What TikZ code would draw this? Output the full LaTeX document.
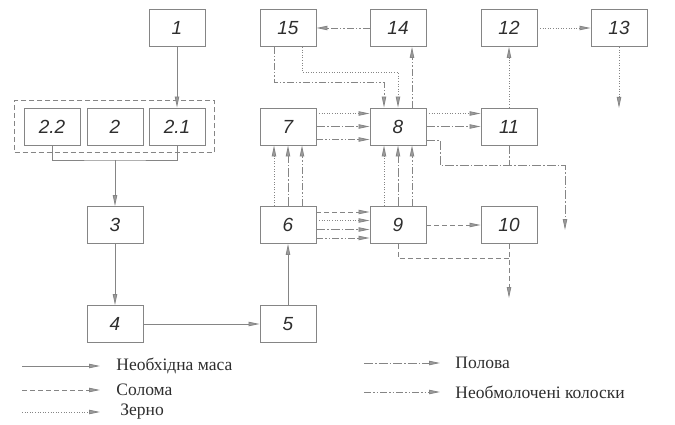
\documentclass[tikz,border=0pt]{standalone}
\usepackage{fontspec}
\setmainfont{Liberation Serif}
\setsansfont{Liberation Sans}
\usepackage{xcolor}
\usepackage{tikz}
\usetikzlibrary{arrows.meta,fit}
\definecolor{lineGray}{HTML}{858585}
\definecolor{tipGray}{HTML}{9C9C9C}
\definecolor{textGray}{HTML}{2E2E2E}

\begin{document}
\begin{tikzpicture}[x=1pt, y=-1pt, >={Triangle[length=11pt, width=4.4pt, fill=tipGray]},
		blk/.style={draw=lineGray, line width=0.9pt, minimum width=56pt, minimum height=37pt, inner sep=0pt, font=\sffamily\itshape\fontsize{19}{19}\selectfont, text=textGray},
		mass/.style={draw=lineGray, line width=0.8pt},
		straw/.style={mass, dash pattern=on 5pt off 3pt},
		grain/.style={mass, dash pattern=on 1pt off 1.6pt},
		chaff/.style={mass, dash pattern=on 9pt off 2pt on 1.5pt off 2pt},
		ears/.style={mass, dash pattern=on 7pt off 2pt on 1.5pt off 2pt on 1.5pt off 2pt},
		legtext/.style={anchor=west, font=\fontsize{17.5}{18}\selectfont, text=textGray, inner sep=0pt}]
		\useasboundingbox (0,0) rectangle (675,425);
		\node[blk] (n1) at (177,28) {1};
		\node[blk] (n22) at (52,126.5) {2.2};
		\node[blk] (n2) at (115,126.5) {2};
		\node[blk] (n21) at (177,126.5) {2.1};
		\node[draw=lineGray, line width=0.8pt, dash pattern=on 5pt off 3pt, fit=(n22)(n21), inner xsep=9pt, inner ysep=7pt] (grp) {};
		\node[blk] (n3) at (115,225) {3};
		\node[blk] (n4) at (115,324) {4};
		\node[blk] (n5) at (288,324) {5};
		\node[blk] (n6) at (288,225) {6};
		\node[blk] (n7) at (288,126.5) {7};
		\node[blk] (n15) at (288,28) {15};
		\node[blk] (n14) at (398,28) {14};
		\node[blk] (n8) at (398,126.5) {8};
		\node[blk] (n9) at (398,225) {9};
		\node[blk] (n10) at (509,225) {10};
		\node[blk] (n11) at (509,126.5) {11};
		\node[blk] (n12) at (509,28) {12};
		\node[blk] (n13) at (619,28) {13};
		\coordinate (jA) at (115,160);
		\coordinate (kA) at (384,82);
		\coordinate (kB) at (398,72);
		\coordinate (kC) at (440,165);
		\coordinate (kD) at (509,258);
		\coordinate (out1) at (565,230);
		\coordinate (out2) at (619,108);
		\coordinate (out3) at (509,298);
		\draw[mass,->] (n1) -- (n21);
		\draw[mass] (n22.south) |- (jA) -| (n21.south);
		\draw[mass,->] (jA) -- (n3);
		\draw[mass,->] (n3) -- (n4);
		\draw[mass,->] (n4) -- (n5);
		\draw[mass,->] (n5) -- (n6);
		\foreach \dx/\st in {-14/grain, 0/chaff, 14/ears}
			\draw[\st,->] ([xshift=\dx]n6.north) -- ([xshift=\dx]n7.south);
		\foreach \dy/\st in {13/grain, 0/chaff, -13/ears}
			\draw[\st,->] ([yshift=\dy]n7.east) -- ([yshift=\dy]n8.west);
		\foreach \dy/\st in {13/straw, 4.5/grain, -4.5/chaff, -13/ears}
			\draw[\st,->] ([yshift=\dy]n6.east) -- ([yshift=\dy]n9.west);
		\foreach \dx/\st in {-14/grain, 0/chaff, 14/ears}
			\draw[\st,->] ([xshift=\dx]n9.north) -- ([xshift=\dx]n8.south);
		\draw[ears,->] ([xshift=14]n8.north) -- ([xshift=14]n8.north |- n14.south);
		\draw[ears,->] (n14) -- (n15);
		\draw[ears,->] ([xshift=-14]n15.south) |- (kA) -- (kA |- n8.north);
		\draw[grain,->] ([xshift=14]n15.south) |- (kB) -- (n8.north);
		\foreach \dy/\st in {13/grain, 0/chaff}
			\draw[\st,->] ([yshift=\dy]n8.east) -- ([yshift=\dy]n11.west);
		\draw[chaff,->] ([yshift=-14]n8.east) -| (kC) -| (out1);
		\draw[chaff] (n11.south) -- (n11.south |- kC);
		\draw[grain,->] (n11) -- (n12);
		\draw[grain,->] (n12) -- (n13);
		\draw[grain,->] (n13) -- (out2);
		\draw[straw,->] (n9) -- (n10);
		\draw[straw] (n9.south) |- (kD);
		\draw[straw,->] (n10.south) -- (out3);
		\foreach \y/\st/\dx/\txt in {366/mass/16/Необхідна маса, 390/straw/16/Солома, 412/grain/20/Зерно}
			\draw[\st,->] (22,\y) -- (100,\y) node[legtext, xshift=\dx] {\txt};
		\foreach \y/\st/\txt in {363/chaff/Полова, 392/ears/Необмолочені колоски}
			\draw[\st,->] (364,\y) -- (440,\y) node[legtext, xshift=15pt] {\txt};
	\end{tikzpicture}
\end{document}
